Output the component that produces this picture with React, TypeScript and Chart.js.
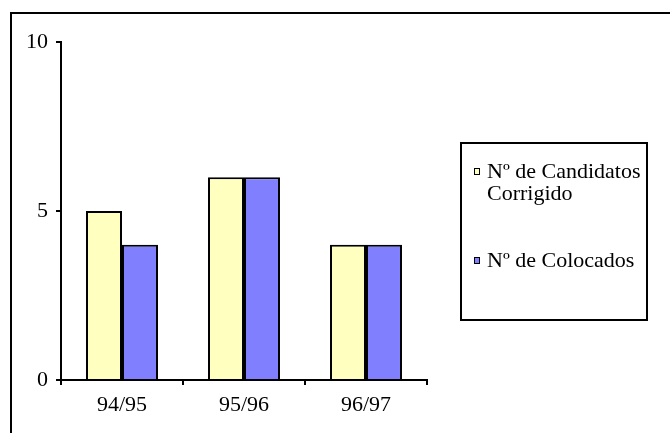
import React, { useEffect, useRef } from "react";
import { Chart, registerables } from "chart.js";

Chart.register(...registerables);

const categories = ["94/95", "95/96", "96/97"];
const candidatos = [5, 6, 4];
const colocados = [4, 6, 4];
const seriesLabels = [["Nº de Candidatos", "Corrigido"], ["Nº de Colocados"]];
const yTicks = [0, 5, 10];

const FONT = "'Liberation Serif', 'Times New Roman', serif";

const framePlugin = {
  id: "frame",
  beforeDraw(chart: any) {
    const ctx = chart.ctx;
    ctx.save();
    ctx.fillStyle = "#ffffff";
    ctx.fillRect(0, 0, chart.width, chart.height);
    ctx.strokeStyle = "#000";
    ctx.lineWidth = 2;
    ctx.beginPath();
    ctx.moveTo(11, chart.height + 5);
    ctx.lineTo(11, 13);
    ctx.lineTo(chart.width + 5, 13);
    ctx.stroke();
    ctx.restore();
  },
};

const boxLegendPlugin = {
  id: "boxLegend",
  afterDraw(chart: any) {
    const ctx = chart.ctx;
    ctx.save();
    ctx.strokeStyle = "#000";
    ctx.lineWidth = 2;
    ctx.strokeRect(461, 143, 186, 177);
    ctx.font = `22px ${FONT}`;
    ctx.textBaseline = "alphabetic";
    ctx.textAlign = "left";
    const baselines = [178, 267];
    chart.data.datasets.forEach((ds: any, i: number) => {
      const lines = seriesLabels[i];
      const by = baselines[i];
      ctx.fillStyle = ds.backgroundColor;
      ctx.fillRect(474, by - 10, 6, 7);
      ctx.lineWidth = 1;
      ctx.strokeStyle = "#000";
      ctx.strokeRect(474.5, by - 9.5, 5, 6);
      ctx.fillStyle = "#000";
      lines.forEach((t: string, j: number) => {
        ctx.fillText(t, 487, by + j * 22);
      });
    });
    ctx.restore();
  },
};

export default function App() {
  const ref = useRef<HTMLCanvasElement>(null);
  useEffect(() => {
    if (!ref.current) return;
    const chart = new Chart(ref.current, {
      type: "bar",
      data: {
        labels: categories,
        datasets: [
          {
            label: seriesLabels[0].join(" "),
            data: candidatos,
            backgroundColor: "#FFFFC0",
            borderColor: "#000",
            borderWidth: 2,
            categoryPercentage: 0.59,
            barPercentage: 1,
          },
          {
            label: seriesLabels[1].join(" "),
            data: colocados,
            backgroundColor: "#8080FF",
            borderColor: "#000",
            borderWidth: 2,
            categoryPercentage: 0.59,
            barPercentage: 1,
          },
        ],
      },
      options: {
        animation: false,
        responsive: false,
        devicePixelRatio: 1,
        layout: { padding: { left: 0, top: 42, right: 243, bottom: 0 } },
        plugins: { legend: { display: false }, tooltip: { enabled: false }, title: { display: false } },
        scales: {
          x: {
            grid: {
              display: true,
              drawOnChartArea: false,
              drawTicks: true,
              tickLength: 5,
              color: "#000",
              lineWidth: 2,
              offset: true,
            },
            border: { display: true, color: "#000", width: 2 },
            ticks: { color: "#000", font: { family: FONT, size: 22 }, padding: 7, maxRotation: 0 },
            afterFit(scale: any) {
              scale.height = 53;
            },
          },
          y: {
            min: 0,
            max: 10,
            afterBuildTicks(scale: any) {
              scale.ticks = yTicks.map((v) => ({ value: v }));
            },
            grid: {
              display: true,
              drawOnChartArea: false,
              drawTicks: true,
              tickLength: 5,
              color: "#000",
              lineWidth: 2,
            },
            border: { display: true, color: "#000", width: 2 },
            ticks: { color: "#000", font: { family: FONT, size: 22 }, padding: 8 },
            afterFit(scale: any) {
              scale.width = 61;
            },
          },
        },
      },
      plugins: [framePlugin, boxLegendPlugin],
    });
    return () => chart.destroy();
  }, []);
  return (
    <div style={{ position: "fixed", left: 0, top: 0, width: 670, height: 433, background: "#fff" }}>
      <canvas ref={ref} width={670} height={433} style={{ display: "block" }} />
    </div>
  );
}
